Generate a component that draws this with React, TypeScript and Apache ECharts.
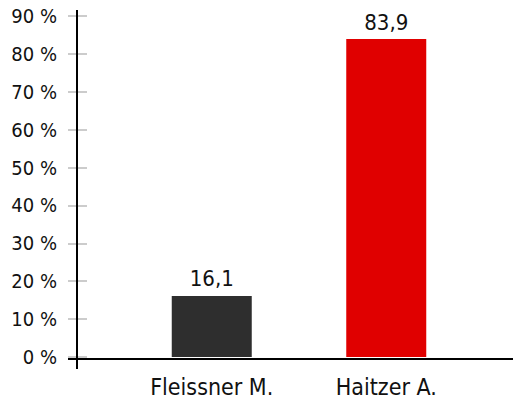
import React, { useEffect, useRef } from "react";
import * as echarts from "echarts";

const categories = ["Fleissner M.", "Haitzer A."];
const values = [16.1, 83.9];
const barColors = ["#2e2e2e", "#e00000"];
const yTicks = [0, 10, 20, 30, 40, 50, 60, 70, 80, 90];

const FONT = "DejaVu Sans Condensed";

export default function App() {
  const ref = useRef<HTMLDivElement>(null);
  useEffect(() => {
    if (!ref.current) return;
    const chart = echarts.init(ref.current, undefined, { renderer: "svg" });
    const yMin = yTicks[0];
    const yMax = yTicks[yTicks.length - 1];
    const yInterval = yTicks[1] - yTicks[0];
    chart.setOption({
      animation: false,
      grid: { left: 124.5, right: 39.5, top: 16, bottom: 39.4 },
      xAxis: {
        type: "category",
        data: categories,
        axisLine: { show: false },
        axisTick: { show: false },
        axisLabel: {
          margin: 18,
          color: "#111",
          fontFamily: FONT,
          fontSize: 23,
        },
      },
      yAxis: [
        {
          type: "value",
          min: yMin,
          max: yMax,
          interval: yInterval,
          offset: 47.5,
          position: "left",
          splitLine: { show: false },
          axisLine: { show: false },
          axisTick: { show: true, length: 9, lineStyle: { color: "#cccccc", width: 2 } },
          axisLabel: {
            margin: 20,
            color: "#111",
            fontFamily: FONT,
            fontSize: 20,
            verticalAlign: "middle",
            padding: [6, 0, 0, 0],
            formatter: (v: number) => `${v} %`,
          },
        },
        {
          type: "value",
          min: yMin,
          max: yMax,
          interval: yInterval,
          offset: 47.5,
          position: "left",
          splitLine: { show: false },
          axisLine: { show: false },
          axisTick: { show: true, inside: true, length: 10, lineStyle: { color: "#cccccc", width: 2 } },
          axisLabel: { show: false },
        },
      ],
      series: [
        {
          type: "bar",
          barWidth: 80,
          data: values.map((v, i) => ({ value: v, itemStyle: { color: barColors[i] } })),
          label: {
            show: true,
            position: "top",
            distance: 6,
            color: "#111",
            fontFamily: FONT,
            fontSize: 22,
            formatter: (p: any) => String(p.value).replace(".", ","),
          },
        },
      ],
      graphic: [
        {
          type: "line",
          shape: { x1: 77, y1: 10, x2: 77, y2: 369 },
          style: { stroke: "#000", lineWidth: 2 },
          z: 100,
        },
        {
          type: "line",
          shape: { x1: 68, y1: 359, x2: 513, y2: 359 },
          style: { stroke: "#000", lineWidth: 2 },
          z: 100,
        },
      ],
    });
    return () => chart.dispose();
  }, []);
  return <div ref={ref} style={{ width: 513, height: 398, position: "absolute", left: 0, top: 0 }} />;
}
